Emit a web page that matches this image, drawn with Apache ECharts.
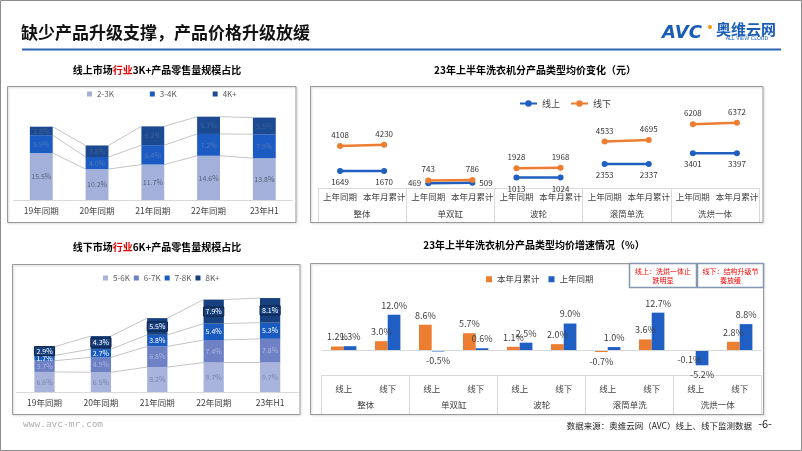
<!DOCTYPE html>
<html><head><meta charset="utf-8">
<script src="https://cdn.jsdelivr.net/npm/echarts@6/dist/echarts.min.js"></script>
<style>html,body{margin:0;padding:0;background:#fff}#c{width:802px;height:451px}</style>
</head><body><div id="c"></div>
<script>
// ---------- data ----------
const onlineYears = ['19年同期','20年同期','21年同期','22年同期','23年H1'];
const onl23 = [15.5,10.2,11.7,14.6,13.8];
const onl34 = [5.9,4.0,6.4,7.2,7.9];
const onl4p = [2.8,3.8,6.2,5.7,5.5];

const offlineYears = ['19年同期','20年同期','21年同期','22年同期','23年H1'];
const off56 = [6.6,6.5,8.2,9.7,9.7];
const off67 = [3.7,4.9,6.8,7.4,7.8];
const off78 = [1.7,2.7,3.8,5.4,5.3];
const off8p = [2.9,4.3,5.5,7.9,8.1];

const priceGroups = ['整体','单双缸','波轮','滚筒单洗','洗烘一体'];
const pricePeriods = ['上年同期','本年月累计'];
const priceOnline = [1649,1670,469,509,1013,1024,2353,2337,3401,3397];
const priceOffline = [4108,4230,743,786,1928,1968,4533,4695,6208,6372];

const growthGroups = ['整体','单双缸','波轮','滚筒单洗','洗烘一体'];
const growthChannels = ['线上','线下'];
const growthCur = [1.2,3.0,8.6,5.7,1.1,2.0,-0.7,3.6,-0.1,2.8];
const growthPrev = [1.3,12.0,-0.5,0.6,2.5,9.0,1.0,12.7,-5.2,8.8];

// ---------- build ----------
const FONT = '"Noto Sans CJK SC","Noto Sans",sans-serif';
const pct = v => v.toFixed(1) + '%';
const priceCats = priceGroups.flatMap(g => pricePeriods.map(p => g + '|' + p));
const growthCats = growthGroups.flatMap(g => growthChannels.map(c => g + '|' + c));

function seriesLines(stacks, ratio) {
  return function (params, api) {
    const i = params.dataIndex;
    const half = api.size([1, 0])[0] * ratio / 2;
    const children = [];
    let c0 = 0, c1 = 0;
    for (const s of stacks) {
      c0 += s[i]; c1 += s[i + 1];
      const p0 = api.coord([i, c0]);
      const p1 = api.coord([i + 1, c1]);
      children.push({type: 'line', shape: {x1: p0[0] + half, y1: p0[1], x2: p1[0] - half, y2: p1[1]},
        style: {stroke: '#c4c4c4', lineWidth: 1}});
    }
    return {type: 'group', children};
  };
}

function stackBar(name, data, color, labelColor, xi, yi, stack, bw, extra) {
  return Object.assign({
    type: 'bar', name, data, xAxisIndex: xi, yAxisIndex: yi, stack, barWidth: bw,
    itemStyle: {color},
    label: {show: true, position: 'inside', formatter: p => pct(p.value), fontSize: 7, color: labelColor, fontFamily: FONT}
  }, extra || {});
}

const series = [];
// top-left
series.push(stackBar('2-3K', onl23, '#a3b0da', '#59627a', 0, 0, 'on', '41%'));
series.push(stackBar('3-4K', onl34, '#1b5bc2', '#4f79bd', 0, 0, 'on', '41%'));
series.push(stackBar('4K+', onl4p, '#1c4a90', '#3d6099', 0, 0, 'on', '41%'));
series.push({type: 'custom', xAxisIndex: 0, yAxisIndex: 0, silent: true,
  data: onlineYears.slice(0, -1).map((_, i) => [i, 0]), renderItem: seriesLines([onl23, onl34, onl4p], 0.41)});

// bottom-left
series.push(stackBar('5-6K', off56, '#a9b4dc', '#7685ad', 3, 2, 'off', '36%'));
series.push(stackBar('6-7K', off67, '#6f81c5', '#aab6e0', 3, 2, 'off', '36%'));
series.push(stackBar('7-8K', off78, '#1a5bc0', '#ffffff', 3, 2, 'off', '36%'));
series.push(stackBar('8K+', off8p, '#17407f', '#ffffff', 3, 2, 'off', '36%', {
  label: {show: true, position: 'inside', formatter: p => pct(p.value), fontSize: 7, color: '#ffffff', fontFamily: FONT,
    borderColor: '#0a1d40', borderWidth: 1, padding: [1, 2]}
}));
series.push({type: 'custom', xAxisIndex: 3, yAxisIndex: 2, silent: true,
  data: offlineYears.slice(0, -1).map((_, i) => [i, 0]), renderItem: seriesLines([off56, off67, off78, off8p], 0.36)});

// top-right price lines
priceGroups.forEach((g, gi) => {
  const i0 = 2 * gi, i1 = 2 * gi + 1;
  const common = {type: 'line', xAxisIndex: 1, yAxisIndex: 1, symbol: 'circle', symbolSize: 6,
    label: {show: true, fontSize: 8, color: '#333', fontFamily: FONT, distance: 4, formatter: p => p.value[1]}};
  series.push(Object.assign({}, common, {
    name: '线上', itemStyle: {color: '#1f5fbf'}, lineStyle: {width: 2.5, color: '#1f5fbf'},
    data: [
      {value: [priceCats[i0], priceOnline[i0]], label: {position: gi === 1 ? 'left' : 'bottom'}},
      {value: [priceCats[i1], priceOnline[i1]], label: {position: gi === 1 ? 'right' : 'bottom'}}
    ]}));
  series.push(Object.assign({}, common, {
    name: '线下', itemStyle: {color: '#ed7d31'}, lineStyle: {width: 2.5, color: '#ed7d31'},
    data: [
      {value: [priceCats[i0], priceOffline[i0]], label: {position: 'top'}},
      {value: [priceCats[i1], priceOffline[i1]], label: {position: 'top'}}
    ]}));
});

// bottom-right growth bars
function growthData(arr) {
  return arr.map(v => ({value: v, label: {position: v < 0 ? 'bottom' : 'top'}}));
}
const glabel = {show: true, fontSize: 9, color: '#404040', fontFamily: FONT, formatter: p => pct(p.value)};
series.push({type: 'bar', name: '本年月累计', xAxisIndex: 4, yAxisIndex: 3, barWidth: 12.7, barGap: '0%',
  itemStyle: {color: '#ed7d31'}, label: glabel, data: growthData(growthCur),
  markLine: {silent: true, symbol: 'none', label: {show: false}, lineStyle: {color: '#d9d9d9', type: 'solid', width: 1},
    data: [{yAxis: 0}]}});
series.push({type: 'bar', name: '上年同期', xAxisIndex: 4, yAxisIndex: 3, barWidth: 12.7, barGap: '0%',
  itemStyle: {color: '#1f5fc4'}, label: glabel, data: growthData(growthPrev)});

const axLab = (size, margin, fmt) => ({fontSize: size, color: '#404040', margin, fontFamily: FONT, formatter: fmt, interval: 0});
const hiddenY = (gi, min, max) => ({type: 'value', gridIndex: gi, min, max, show: false, splitLine: {show: false}});

const titleStyle = {fontSize: 10, fontWeight: 'bold', color: '#000', fontFamily: FONT, lineHeight: 12,
  rich: {r: {fontSize: 10, fontWeight: 'bold', color: '#e60000', fontFamily: FONT, lineHeight: 12}}};

const option = {
  animation: false,
  textStyle: {fontFamily: FONT},
  title: [
    {text: '缺少产品升级支撑，产品价格升级放缓', left: 21, top: 24, padding: 0,
      textStyle: {fontSize: 17, fontWeight: 'bold', color: '#111', fontFamily: FONT, lineHeight: 18}},
    {text: '线上市场{r|行业}3K+产品零售量规模占比', left: 157, top: 64, padding: 0, textAlign: 'center', textStyle: titleStyle},
    {text: '23年上半年洗衣机分产品类型均价变化（元）', left: 535, top: 64, padding: 0, textAlign: 'center', textStyle: titleStyle},
    {text: '线下市场{r|行业}6K+产品零售量规模占比', left: 157, top: 241, padding: 0, textAlign: 'center', textStyle: titleStyle},
    {text: '23年上半年洗衣机分产品类型均价增速情况（%）', left: 534, top: 239, padding: 0, textAlign: 'center', textStyle: titleStyle}
  ],
  legend: [
    {data: ['2-3K', '3-4K', '4K+'], left: 87, top: 90, padding: 0, icon: 'rect', itemWidth: 5, itemHeight: 5, itemGap: 36,
      textStyle: {fontSize: 8, color: '#595959'}},
    {data: ['线上', '线下'], left: 519, top: 99, padding: 0, itemWidth: 17, itemHeight: 8, itemGap: 10,
      textStyle: {fontSize: 9, color: '#404040'}},
    {data: ['5-6K', '6-7K', '7-8K', '8K+'], left: 103, top: 274, padding: 0, icon: 'rect', itemWidth: 5, itemHeight: 5, itemGap: 4,
      textStyle: {fontSize: 8, color: '#595959'}},
    {data: ['本年月累计', '上年同期'], left: 486, top: 275, padding: 0, icon: 'rect', itemWidth: 6, itemHeight: 6, itemGap: 9,
      textStyle: {fontSize: 8.5, color: '#404040'}}
  ],
  grid: [
    {left: 13.4, top: 109.1, width: 278.8, height: 90.9},
    {left: 318, top: 106, width: 441, height: 82},
    {left: 16.3, top: 285.6, width: 282, height: 106.4},
    {left: 321.7, top: 291.2, width: 440, height: 83.8}
  ],
  xAxis: [
    {type: 'category', gridIndex: 0, data: onlineYears, axisLine: {onZero: false, lineStyle: {color: '#d9d9d9'}},
      axisTick: {show: false}, axisLabel: axLab(8.5, 7)},
    {type: 'category', gridIndex: 1, data: priceCats, axisLine: {onZero: false, lineStyle: {color: '#d9d9d9'}},
      axisTick: {show: false}, axisLabel: axLab(8.5, 5, v => v.split('|')[1])},
    {type: 'category', gridIndex: 1, data: priceGroups, position: 'bottom', axisLine: {show: false, onZero: false},
      axisTick: {show: true, length: 34, lineStyle: {color: '#d9d9d9'}}, axisLabel: axLab(8.5, 22)},
    {type: 'category', gridIndex: 2, data: offlineYears, axisLine: {onZero: false, lineStyle: {color: '#d9d9d9'}},
      axisTick: {show: false}, axisLabel: axLab(8.5, 7)},
    {type: 'category', gridIndex: 3, data: growthCats, axisLine: {onZero: false, lineStyle: {color: '#d9d9d9'}},
      axisTick: {show: false}, axisLabel: axLab(8.5, 10, v => v.split('|')[1])},
    {type: 'category', gridIndex: 3, data: growthGroups, position: 'bottom', axisLine: {show: false, onZero: false},
      axisTick: {show: true, length: 39, lineStyle: {color: '#d9d9d9'}}, axisLabel: axLab(8.5, 26)}
  ],
  yAxis: [hiddenY(0, 0, 30), hiddenY(1, 0, 8000), hiddenY(2, 0, 35), hiddenY(3, -8.5, 20)],
  graphic: [
    {type: 'rect', shape: {x: 0.5, y: 0.5, width: 801, height: 450}, style: {fill: 'rgba(0,0,0,0)', stroke: '#8c8c8c', lineWidth: 1}, silent: true},
    {type: 'line', shape: {x1: 22, y1: 49.5, x2: 781, y2: 49.5}, style: {stroke: '#2a64ae', lineWidth: 2}, silent: true},
    {type: 'rect', shape: {x: 7.5, y: 86.5, width: 288.5, height: 136}, style: {fill: 'rgba(0,0,0,0)', stroke: '#9a9a9a', lineWidth: 1, shadowBlur: 2, shadowColor: 'rgba(0,0,0,0.2)', shadowOffsetX: 1, shadowOffsetY: 1}, silent: true},
    {type: 'rect', shape: {x: 310.5, y: 86.5, width: 452.5, height: 136}, style: {fill: 'rgba(0,0,0,0)', stroke: '#9a9a9a', lineWidth: 1, shadowBlur: 2, shadowColor: 'rgba(0,0,0,0.2)', shadowOffsetX: 1, shadowOffsetY: 1}, silent: true},
    {type: 'rect', shape: {x: 12.5, y: 264.5, width: 287.5, height: 150}, style: {fill: 'rgba(0,0,0,0)', stroke: '#9a9a9a', lineWidth: 1, shadowBlur: 2, shadowColor: 'rgba(0,0,0,0.2)', shadowOffsetX: 1, shadowOffsetY: 1}, silent: true},
    {type: 'rect', shape: {x: 310.5, y: 263.5, width: 453, height: 151}, style: {fill: 'rgba(0,0,0,0)', stroke: '#9a9a9a', lineWidth: 1, shadowBlur: 2, shadowColor: 'rgba(0,0,0,0.2)', shadowOffsetX: 1, shadowOffsetY: 1}, silent: true},
    {type: 'rect', shape: {x: 629.5, y: 263.5, width: 67, height: 24}, style: {fill: '#fff', stroke: '#8497b0', lineWidth: 1.5}, silent: true},
    {type: 'rect', shape: {x: 697.5, y: 263.5, width: 66, height: 24}, style: {fill: '#fff', stroke: '#8497b0', lineWidth: 1.5}, silent: true},
    {type: 'text', x: 663, y: 275.5, style: {text: '线上：洗烘一体止\n跌明显', fill: '#ff0000', fontSize: 7, fontFamily: FONT, align: 'center', verticalAlign: 'middle', lineHeight: 9}, silent: true},
    {type: 'text', x: 730.5, y: 275.5, style: {text: '线下：结构升级节\n奏放缓', fill: '#ff0000', fontSize: 7, fontFamily: FONT, align: 'center', verticalAlign: 'middle', lineHeight: 9}, silent: true},
    // logo
    {type: 'text', x: 662, y: 33, style: {text: 'AVC', fill: '#1a5db5', fontSize: 18, fontWeight: 'bold', fontStyle: 'italic', fontFamily: 'DejaVu Sans', verticalAlign: 'middle'}, silent: true},
    {type: 'circle', shape: {cx: 710, cy: 27, r: 2}, style: {fill: '#f39800'}, silent: true},
    {type: 'text', x: 716, y: 29, style: {text: '奥维云网', fill: '#1a5db5', fontSize: 15, fontWeight: 'bold', fontFamily: FONT, verticalAlign: 'middle'}, silent: true},
    {type: 'text', x: 747, y: 39, style: {text: 'ALL VIEW CLOUD', fill: '#1a5db5', fontSize: 5, fontFamily: 'DejaVu Sans', align: 'center', verticalAlign: 'middle'}, silent: true},
    // footer
    {type: 'text', x: 23, y: 425, style: {text: 'www.avc-mr.com', fill: '#b0b0b0', fontSize: 9.5, fontFamily: '"DejaVu Sans Mono",monospace', verticalAlign: 'middle'}, silent: true},
    {type: 'text', x: 752, y: 426, style: {text: '数据来源：奥维云网（AVC）线上、线下监测数据', fill: '#222', fontSize: 8.5, fontFamily: FONT, align: 'right', verticalAlign: 'middle'}, silent: true},
    {type: 'text', x: 765, y: 424, style: {text: '-6-', fill: '#222', fontSize: 11, fontFamily: FONT, align: 'center', verticalAlign: 'middle'}, silent: true}
  ],
  series
};

const chart = echarts.init(document.getElementById('c'));
chart.setOption(option);
</script>
</body></html>
